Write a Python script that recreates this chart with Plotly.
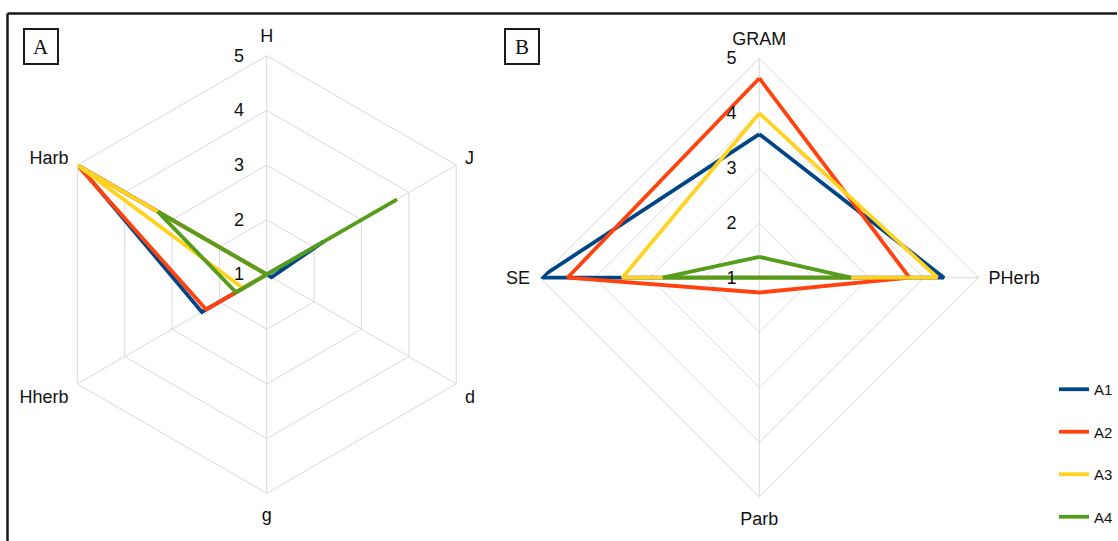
import plotly.graph_objects as go

# Panel A: habitat axes
axes_a = ["H", "J", "d", "g", "Hherb", "Harb"]
a1_a = [1.0, 2.2, 1.1, 1.0, 2.37, 4.95]
a2_a = [1.0, 1.0, 1.0, 1.0, 2.28, 5.0]
a3_a = [1.0, 1.0, 1.0, 1.0, 1.5, 5.0]
a4_a = [1.0, 3.75, 1.0, 1.0, 1.65, 3.3]

# Panel B: functional group axes
axes_b = ["GRAM", "PHerb", "Parb", "SE"]
a1_b = [3.62, 4.37, 1.0, 5.0]
a2_b = [4.64, 3.74, 1.27, 4.5]
a3_b = [4.0, 4.25, 1.0, 3.5]
a4_b = [1.38, 2.67, 1.0, 2.76]

series_names = ["A1", "A2", "A3", "A4"]
series_colors = ["#004586", "#ff420e", "#ffd320", "#579d1c"]
radial_ticks = [1, 2, 3, 4, 5]

W, H = 1118, 541
FONT = "Liberation Sans, Arial, sans-serif"
GRID = "#dadada"


def closed(vals, cats):
    return list(vals) + [vals[0]], list(cats) + [cats[0]]


fig = go.Figure()

for i, (name, color) in enumerate(zip(series_names, series_colors)):
    r, th = closed([a1_a, a2_a, a3_a, a4_a][i], axes_a)
    fig.add_trace(go.Scatterpolar(
        r=r, theta=th, mode="lines", name=name, subplot="polar",
        line=dict(color=color, width=3.8), legendgroup=name, showlegend=True))

for i, (name, color) in enumerate(zip(series_names, series_colors)):
    r, th = closed([a1_b, a2_b, a3_b, a4_b][i], axes_b)
    fig.add_trace(go.Scatterpolar(
        r=r, theta=th, mode="lines", name=name, subplot="polar2",
        line=dict(color=color, width=3.8), legendgroup=name, showlegend=False))


def px_x(x):
    return x / W


def px_y(y):
    return 1 - y / H


def polar_cfg(cats, cx, cy, rad):
    return dict(
        domain=dict(x=[px_x(cx - rad), px_x(cx + rad)],
                    y=[px_y(cy + rad), px_y(cy - rad)]),
        gridshape="linear",
        bgcolor="white",
        radialaxis=dict(
            range=[1, 5], tickvals=radial_ticks, ticktext=[str(t) for t in radial_ticks],
            angle=90, side="counterclockwise", showline=False, tickangle=90,
            gridcolor=GRID, gridwidth=1, ticks="outside", ticklen=16,
            tickcolor="rgba(0,0,0,0)",
            tickfont=dict(family=FONT, size=18, color="#111111")),
        angularaxis=dict(
            categoryorder="array", categoryarray=cats,
            rotation=90, direction="clockwise",
            showline=True, linecolor=GRID, linewidth=1,
            gridcolor=GRID, gridwidth=1,
            ticks="outside", ticklen=6, tickcolor="rgba(0,0,0,0)",
            tickfont=dict(family=FONT, size=18, color="#111111")),
    )


fig.update_layout(
    width=W, height=H,
    margin=dict(l=0, r=0, t=0, b=0),
    paper_bgcolor="white", plot_bgcolor="white",
    polar=polar_cfg(axes_a, 267, 274.5, 219),
    polar2=polar_cfg(axes_b, 760, 277.7, 219.4),
    legend=dict(
        x=px_x(1055), y=px_y(373), xanchor="left", yanchor="top",
        font=dict(family=FONT, size=15, color="#111111"),
        tracegroupgap=20, bgcolor="rgba(0,0,0,0)"),
    showlegend=True,
)

# Outer frame (top and left edges)
fig.add_shape(type="line", xref="paper", yref="paper",
              x0=px_x(7.5), x1=1.0, y0=px_y(13.5), y1=px_y(13.5),
              line=dict(color="#1a1a1a", width=2.5))
fig.add_shape(type="line", xref="paper", yref="paper",
              x0=px_x(7.5), x1=px_x(7.5), y0=px_y(13.5), y1=0.0,
              line=dict(color="#1a1a1a", width=2.5))

# Panel letters
for letter, cx in [("A", 41), ("B", 522)]:
    fig.add_annotation(
        x=px_x(cx), y=px_y(47), xref="paper", yref="paper",
        text=letter, showarrow=False, xanchor="center", yanchor="middle",
        font=dict(family="Liberation Serif, Times New Roman, serif", size=21, color="#111111"),
        bordercolor="#1a1a1a", borderwidth=2, borderpad=4,
        width=24, height=25, bgcolor="white")

fig.write_html("out.html")
